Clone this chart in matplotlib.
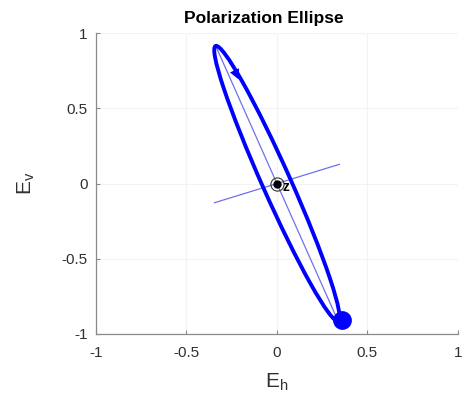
import numpy as np
import matplotlib
matplotlib.use("Agg")
import matplotlib.pyplot as plt
from matplotlib.patches import Ellipse

plt.rcParams['font.family'] = ['Liberation Sans', 'DejaVu Sans']

# Polarization ellipse parameters
semi_major = 0.975
semi_minor = 0.080
tilt_deg = 110.3
minor_guide_half = 0.368

# Current field vector tip and rotation arrow
field_point = (0.36, -0.905)
arrow_tail = (-0.245, 0.780)
arrow_head = (-0.205, 0.675)

ticks = [-1, -0.5, 0, 0.5, 1]
tick_labels = ['-1', '-0.5', '0', '0.5', '1']

fig = plt.figure(figsize=(4.65, 3.97), dpi=100)
ax = fig.add_axes([0.2065, 0.1587, 0.778, 0.758])

ax.set_xlim(-1, 1)
ax.set_ylim(-1, 1)
ax.set_xticks(ticks)
ax.set_xticklabels(tick_labels)
ax.set_yticks(ticks)
ax.set_yticklabels(tick_labels)
ax.grid(True, color='#f3f3f3', linewidth=0.8)
ax.set_axisbelow(True)

for side in ('top', 'right'):
    ax.spines[side].set_visible(False)
for side in ('left', 'bottom'):
    ax.spines[side].set_color('#8a8a8a')
    ax.spines[side].set_linewidth(0.9)
ax.tick_params(direction='in', length=3, color='#8a8a8a', labelsize=11,
               labelcolor='#303030', pad=6)
ax.tick_params(axis='x', pad=9)

th = np.deg2rad(tilt_deg)
# major and minor axis guides
ax.plot([semi_major * np.cos(th), -semi_major * np.cos(th)],
        [semi_major * np.sin(th), -semi_major * np.sin(th)],
        color='#7070ea', linewidth=0.9, zorder=2)
ax.plot([minor_guide_half * np.cos(th - np.pi / 2), -minor_guide_half * np.cos(th - np.pi / 2)],
        [minor_guide_half * np.sin(th - np.pi / 2), -minor_guide_half * np.sin(th - np.pi / 2)],
        color='#7070ea', linewidth=0.9, zorder=2)

# propagation direction symbol at the origin
ax.plot([0], [0], marker='o', ms=9.5, mfc='none', mec='#333333', mew=0.8, zorder=3)
ax.plot([0], [0], marker='o', ms=5, color='black', zorder=3)
ax.text(0.032, -0.02, 'z', fontsize=10, fontweight='bold', ha='left', va='center', zorder=3)

ax.add_patch(Ellipse((0, 0), 2 * semi_major, 2 * semi_minor, angle=tilt_deg,
                     fill=False, edgecolor='#0000ff', linewidth=2.8, zorder=4))

ax.annotate('', xy=arrow_head, xytext=arrow_tail,
            arrowprops=dict(arrowstyle='-|>', color='#0000ff', lw=0, mutation_scale=18),
            zorder=5)
ax.plot([field_point[0]], [field_point[1]], marker='o', ms=12.5, color='#0000ff', zorder=5)

ax.set_xlabel('E$_\\mathregular{h}$', fontsize=15, color='#303030', labelpad=8)
ax.set_ylabel('E$_\\mathregular{v}$', fontsize=15, color='#303030', labelpad=18)
fig.text(264 / 465, 1 - 18 / 397, 'Polarization Ellipse', fontsize=12.5,
         fontweight='bold', ha='center', va='center')

fig.savefig('out.png', dpi=100)
